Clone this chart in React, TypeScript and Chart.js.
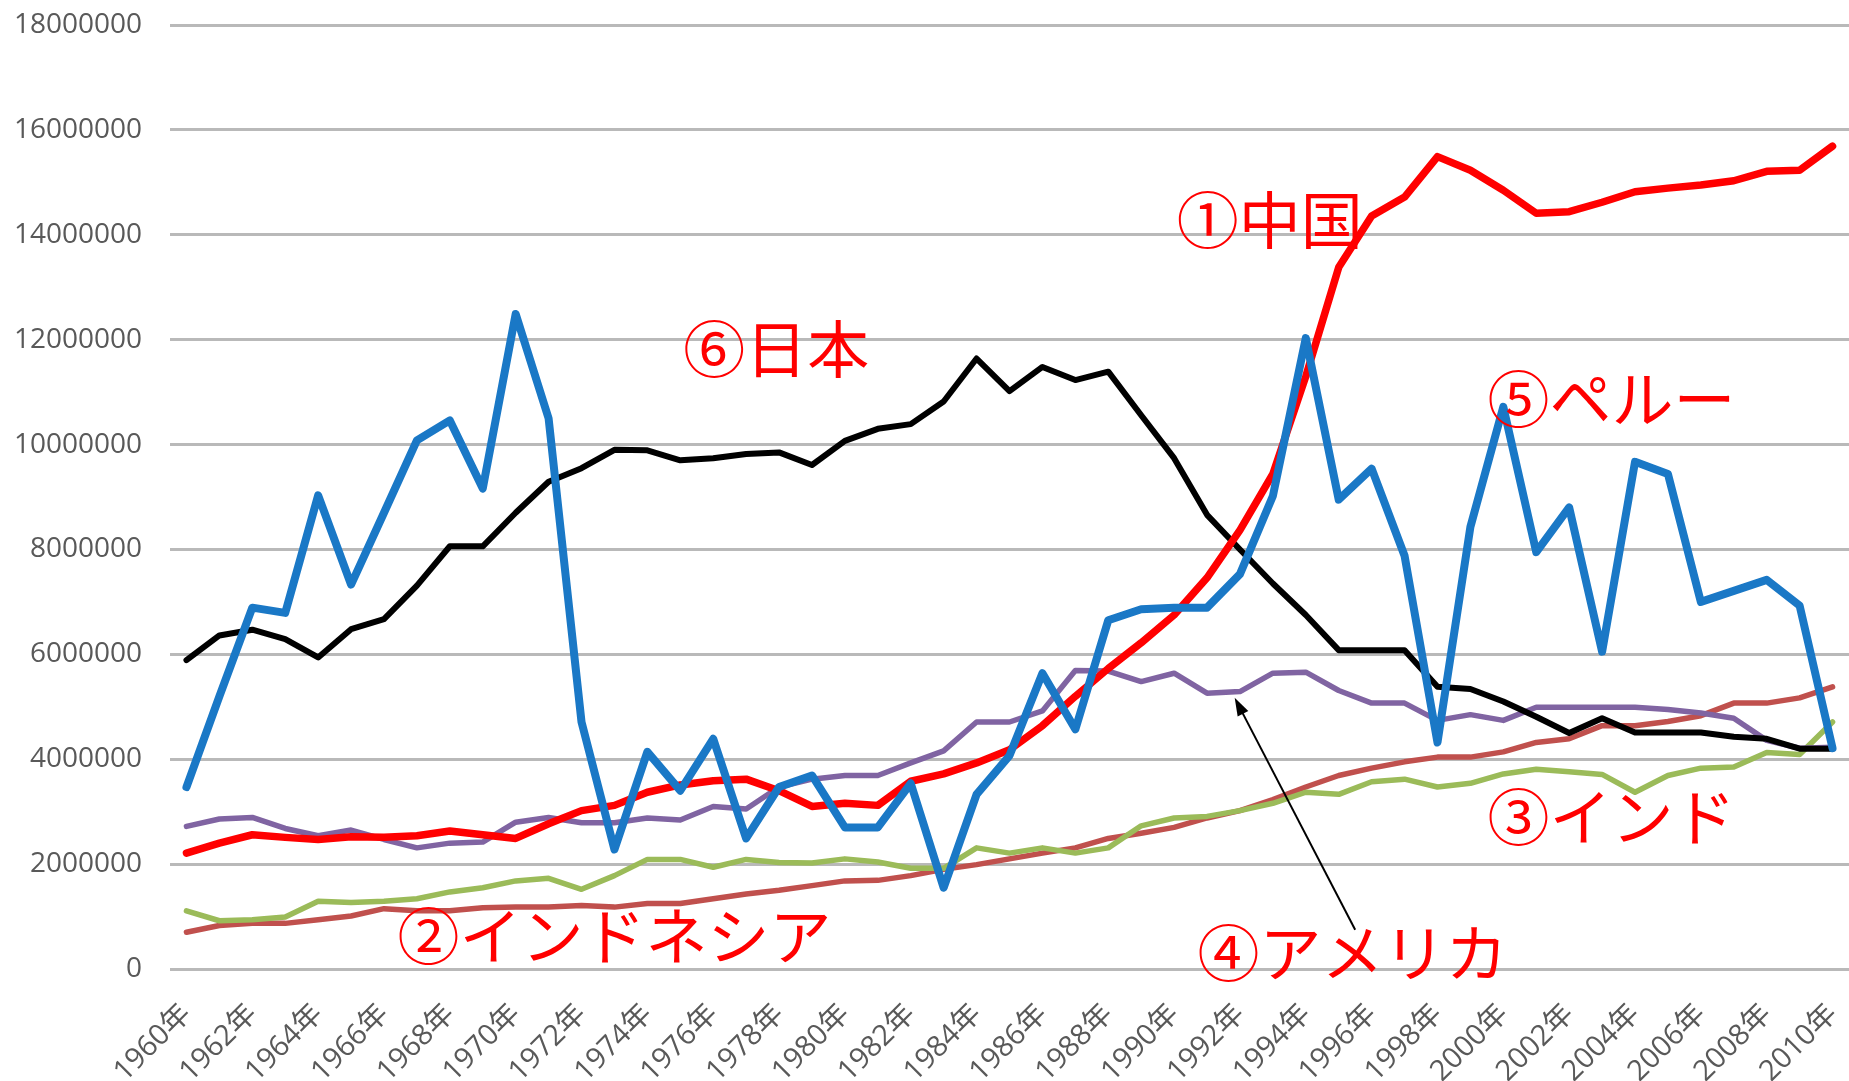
import React, { useEffect, useRef } from 'react';
import { Chart, registerables } from 'chart.js';

Chart.register(...registerables);

const years = [
  '1960年', '1961年', '1962年', '1963年', '1964年', '1965年', '1966年', '1967年', '1968年', '1969年',
  '1970年', '1971年', '1972年', '1973年', '1974年', '1975年', '1976年', '1977年', '1978年', '1979年',
  '1980年', '1981年', '1982年', '1983年', '1984年', '1985年', '1986年', '1987年', '1988年', '1989年',
  '1990年', '1991年', '1992年', '1993年', '1994年', '1995年', '1996年', '1997年', '1998年', '1999年',
  '2000年', '2001年', '2002年', '2003年', '2004年', '2005年', '2006年', '2007年', '2008年', '2009年',
  '2010年',
];

const china = [
  2210000, 2400000, 2560000, 2510000, 2470000, 2520000, 2510000, 2540000, 2630000, 2560000,
  2490000, 2770000, 3020000, 3120000, 3370000, 3510000, 3590000, 3620000, 3400000, 3100000,
  3160000, 3120000, 3580000, 3720000, 3930000, 4180000, 4640000, 5200000, 5730000, 6220000,
  6750000, 7460000, 8370000, 9440000, 11300000, 13380000, 14360000, 14720000, 15490000, 15230000,
  14850000, 14410000, 14440000, 14620000, 14820000, 14890000, 14950000, 15030000, 15210000, 15230000,
  15690000,
];

const indonesia = [
  700000, 830000, 870000, 870000, 940000, 1010000, 1150000, 1110000, 1110000, 1170000,
  1180000, 1180000, 1210000, 1180000, 1250000, 1250000, 1340000, 1430000, 1500000, 1590000,
  1680000, 1690000, 1780000, 1900000, 1990000, 2100000, 2210000, 2310000, 2490000, 2590000,
  2700000, 2880000, 3020000, 3230000, 3470000, 3690000, 3830000, 3950000, 4040000, 4040000,
  4140000, 4320000, 4390000, 4640000, 4640000, 4720000, 4830000, 5070000, 5070000, 5170000,
  5380000,
];

const india = [
  1110000, 920000, 940000, 990000, 1290000, 1270000, 1290000, 1340000, 1470000, 1550000,
  1680000, 1730000, 1520000, 1780000, 2090000, 2090000, 1940000, 2090000, 2030000, 2020000,
  2100000, 2040000, 1920000, 1920000, 2310000, 2210000, 2310000, 2210000, 2310000, 2730000,
  2880000, 2910000, 3020000, 3160000, 3370000, 3330000, 3570000, 3620000, 3470000, 3540000,
  3720000, 3810000, 3760000, 3710000, 3370000, 3690000, 3830000, 3850000, 4130000, 4090000,
  4710000,
];

const america = [
  2720000, 2860000, 2890000, 2680000, 2540000, 2650000, 2470000, 2310000, 2400000, 2420000,
  2800000, 2890000, 2790000, 2790000, 2880000, 2840000, 3100000, 3050000, 3470000, 3620000,
  3690000, 3690000, 3930000, 4160000, 4710000, 4710000, 4920000, 5690000, 5680000, 5480000,
  5640000, 5260000, 5290000, 5640000, 5660000, 5310000, 5070000, 5070000, 4740000, 4850000,
  4740000, 4990000, 4990000, 4990000, 4990000, 4950000, 4880000, 4780000, 4360000, 4210000,
  4230000,
];

const peru = [
  3470000, 5200000, 6890000, 6790000, 9030000, 7330000, 8700000, 10080000, 10460000, 9160000,
  12490000, 10500000, 4710000, 2280000, 4140000, 3400000, 4390000, 2490000, 3470000, 3690000,
  2700000, 2700000, 3540000, 1550000, 3330000, 4070000, 5640000, 4570000, 6650000, 6860000,
  6890000, 6890000, 7530000, 9020000, 12030000, 8950000, 9540000, 7880000, 4320000, 8430000,
  10720000, 7950000, 8800000, 6050000, 9670000, 9440000, 7000000, 7210000, 7420000, 6930000,
  4210000,
];

const japan = [
  5890000, 6360000, 6470000, 6290000, 5940000, 6480000, 6670000, 7310000, 8060000, 8060000,
  8700000, 9290000, 9550000, 9900000, 9890000, 9700000, 9740000, 9820000, 9850000, 9610000,
  10070000, 10300000, 10390000, 10820000, 11640000, 11020000, 11480000, 11230000, 11390000, 10560000,
  9740000, 8660000, 8000000, 7350000, 6750000, 6080000, 6080000, 6080000, 5380000, 5340000,
  5100000, 4810000, 4500000, 4780000, 4510000, 4510000, 4510000, 4430000, 4390000, 4200000,
  4200000,
];

// annotation labels anchored in data space (category index, value)
const noteTexts = ['①中国', '②インドネシア', '③インド', '④アメリカ', '⑤ペルー', '⑥日本'];
const noteIdx = [30.08, 6.41, 39.52, 30.71, 39.52, 15.09];
const noteVal = [14280000, 620000, 2890000, 290000, 10860000, 11810000];

// arrow for ④アメリカ (tail -> head), in data space
const arrowTail = [35.5, 750000];
const arrowHead = [31.84, 5170000];

const yTicksMax = 18000000;
const yStep = 2000000;

const notesPlugin = {
  id: 'notes',
  afterDatasetsDraw(chart: any) {
    const { ctx } = chart;
    const xs = chart.scales.x;
    const ys = chart.scales.y;
    ctx.save();
    // arrow
    const x1 = xs.getPixelForValue(arrowTail[0]);
    const y1 = ys.getPixelForValue(arrowTail[1]);
    const x2 = xs.getPixelForValue(arrowHead[0]);
    const y2 = ys.getPixelForValue(arrowHead[1]);
    const ang = Math.atan2(y2 - y1, x2 - x1);
    const hl = 18;
    const hw = 6;
    ctx.strokeStyle = '#000000';
    ctx.fillStyle = '#000000';
    ctx.lineWidth = 2;
    ctx.beginPath();
    ctx.moveTo(x1, y1);
    ctx.lineTo(x2 - Math.cos(ang) * hl * 0.8, y2 - Math.sin(ang) * hl * 0.8);
    ctx.stroke();
    ctx.beginPath();
    ctx.moveTo(x2, y2);
    ctx.lineTo(
      x2 - Math.cos(ang) * hl + Math.sin(ang) * hw,
      y2 - Math.sin(ang) * hl - Math.cos(ang) * hw
    );
    ctx.lineTo(
      x2 - Math.cos(ang) * hl - Math.sin(ang) * hw,
      y2 - Math.sin(ang) * hl + Math.cos(ang) * hw
    );
    ctx.closePath();
    ctx.fill();

    // texts
    ctx.font = '62px "Noto Sans CJK JP"';
    ctx.fillStyle = '#ff0000';
    ctx.textAlign = 'left';
    ctx.textBaseline = 'middle';
    for (let i = 0; i < noteTexts.length; i++) {
      ctx.fillText(noteTexts[i], xs.getPixelForValue(noteIdx[i]), ys.getPixelForValue(noteVal[i]));
    }
    ctx.restore();
  },
};

export default function App() {
  const ref = useRef<HTMLCanvasElement | null>(null);

  useEffect(() => {
    document.body.style.margin = '0';
    const canvas = ref.current;
    if (!canvas) return;
    const mk = (label: string, data: number[], color: string, width: number, order: number) => ({
      label,
      data,
      borderColor: color,
      backgroundColor: color,
      borderWidth: width,
      order,
      pointRadius: 0,
      pointHoverRadius: 0,
      tension: 0,
      fill: false,
      borderJoinStyle: 'round' as const,
      borderCapStyle: 'round' as const,
    });
    const chart = new Chart(canvas, {
      type: 'line',
      data: {
        labels: years,
        datasets: [
          mk('ペルー', peru, '#1a78c6', 8, 0),
          mk('中国', china, '#ff0000', 7.5, 1),
          mk('日本', japan, '#000000', 6, 2),
          mk('アメリカ', america, '#8064a2', 5.5, 3),
          mk('インド', india, '#9bbb59', 5.5, 4),
          mk('インドネシア', indonesia, '#c0504d', 5.5, 5),
        ],
      },
      options: {
        responsive: false,
        animation: false,
        events: [],
        layout: { padding: { top: 25, right: 0, bottom: 0, left: 0 } },
        plugins: {
          legend: { display: false },
          tooltip: { enabled: false },
        },
        scales: {
          x: {
            type: 'category',
            offset: true,
            grid: { display: false, drawTicks: false },
            border: { display: false },
            ticks: {
              autoSkip: false,
              minRotation: 45,
              maxRotation: 45,
              padding: 28,
              color: '#595959',
              font: { family: '"Open Sans", "Noto Sans CJK JP", sans-serif', size: 29 },
              callback: (_v: any, i: number) => (i % 2 === 0 ? years[i] : null),
            },
            afterFit: (s: any) => {
              s.height = 112;
              s.paddingLeft = 0;
              s.paddingRight = 0;
            },
          },
          y: {
            min: 0,
            max: yTicksMax,
            grid: { color: '#b9b9b9', lineWidth: 3, drawTicks: false },
            border: { display: false },
            ticks: {
              stepSize: yStep,
              padding: 28,
              color: '#595959',
              font: { family: '"Open Sans", sans-serif', size: 28 },
              callback: (v: any) => String(v),
            },
            afterFit: (s: any) => {
              s.width = 170;
              s.paddingTop = 0;
              s.paddingBottom = 0;
            },
          },
        },
      },
      plugins: [notesPlugin],
    });
    return () => chart.destroy();
  }, []);

  return (
    <canvas
      ref={ref}
      width={1849}
      height={1081}
      style={{ position: 'fixed', left: 0, top: 0, width: '1849px', height: '1081px', background: '#ffffff' }}
    />
  );
}
